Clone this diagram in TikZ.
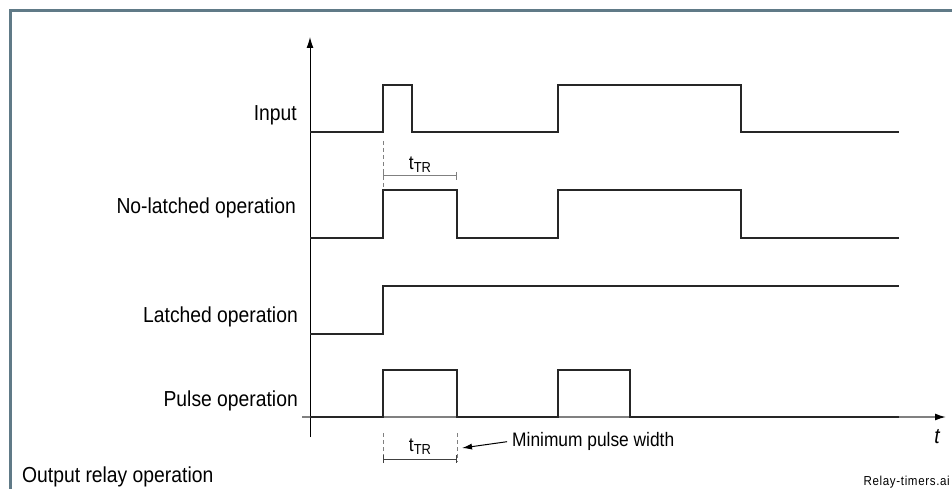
\documentclass[tikz,border=0pt]{standalone}
\usepackage{fontspec}
\setmainfont{Liberation Sans}[FakeStretch=0.89]
\usetikzlibrary{arrows.meta}

\definecolor{framecol}{RGB}{96,122,135}
\definecolor{sigcol}{RGB}{38,38,38}

\begin{document}
\begin{tikzpicture}[
    x = 1pt, y = -1pt,
    every node/.style = {inner sep = 0pt, font = \fontsize{21.7}{24}\selectfont},
    rowlabel/.style = {anchor = base east},
    signal/.style = {draw = sigcol, line width = 2pt},
    guide/.style = {draw = gray, line width = 1pt, dash pattern = on 4pt off 3pt},
    dimline/.style = {line width = 1pt, {Bar[width=8pt]}-{Bar[width=8pt]}},
    ttr/.style = {font = \fontsize{19.5}{20}\selectfont}]

\useasboundingbox (0,0) rectangle (952,489);
\draw[framecol, line width = 3.5pt] (10.3,520) -- (10.3,10.3) -- (990,10.3);

% axes
\draw[line width = 1pt, -{Latex[length=11pt,width=7pt]}] (310,437) -- (310,37);
\draw[gray, line width = 1.5pt, -{Latex[length=11pt,width=7pt,color=black]}] (302,417) -- (946,417);
\node (t) at (937,437) {\itshape t};

% row labels
\node[rowlabel] (input)    at (297,121) {Input};
\node[rowlabel] (nolatch)  at (296,213) {No-latched operation};
\node[rowlabel] (latch)    at (298,322) {Latched operation};
\node[rowlabel] (pulse)    at (298,406) {Pulse operation};
\node[anchor = base west] (output) at (22,482) {Output relay operation};

% waveforms
\draw[signal] (310,132) -| (383,85) -| (412,132) -| (558,85) -| (741,132) -- (899,132);
\draw[signal] (310,238) -| (383,190) -| (457,238) -| (558,190) -| (741,238) -- (899,238);
\draw[signal] (310,334) -| (383,286) -- (899,286);
\draw[signal] (310,417) -| (383,370) -| (457,417) -| (558,370) -| (630,417) -- (899,417);

% t_TR on the no-latched row
\draw[guide] (383,141) -- (383,190);
\draw[dimline, gray] (383,176) -- (457,176);
\node[ttr] (ttrtop) at (420,165) {t\raisebox{-3pt}{\fontsize{14.5}{14}\selectfont TR}};

% minimum pulse width
\draw[guide] (383,433) -- (383,462);
\draw[guide] (457,433) -- (457,462);
\draw[dimline, black!75] (383,459) -- (457,459);
\node[ttr] (ttrbot) at (420,447) {t\raisebox{-3pt}{\fontsize{14.5}{14}\selectfont TR}};
\node[anchor = west, font = \fontsize{19.5}{22}\selectfont] (minw) at (512,441) {Minimum pulse width};
\coordinate (mark) at (462,448);
\draw[line width = 1pt, -{Latex[length=10pt,width=6pt]}, shorten <= 5pt] (minw.west) -- (mark);

\node[anchor = base east, font = \fontsize{13}{14}\selectfont\addfontfeature{LetterSpace=5}] (file) at (950,485) {Relay-timers.ai};
\end{tikzpicture}
\end{document}
